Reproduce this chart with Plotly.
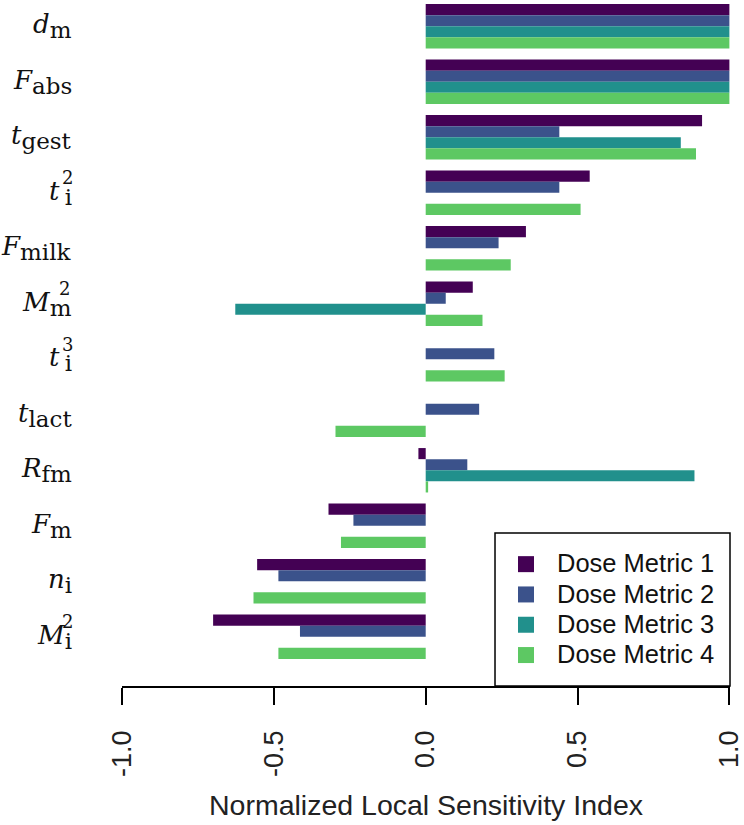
import plotly.graph_objects as go

# parameters, top to bottom: symbol, subscript, superscript
param_main = ["d", "F", "t", "t", "F", "M", "t", "t", "R", "F", "n", "M"]
param_sub = ["m", "abs", "gest", "i", "milk", "m", "i", "lact", "fm", "m", "i", "i"]
param_sup = ["", "", "", "2", "", "2", "3", "", "", "", "", "2"]
params = [m + "_" + s + ("^" + p if p else "") for m, s, p in zip(param_main, param_sub, param_sup)]

metric_names = ["Dose Metric 1", "Dose Metric 2", "Dose Metric 3", "Dose Metric 4"]
metric_colors = ["#440154", "#3B528B", "#21908C", "#5DC863"]

dm1 = [1.0, 1.0, 0.91, 0.54, 0.33, 0.155, 0.0, 0.0, -0.024, -0.32, -0.555, -0.70]
dm2 = [1.0, 1.0, 0.44, 0.44, 0.24, 0.066, 0.226, 0.176, 0.137, -0.238, -0.485, -0.414]
dm3 = [1.0, 1.0, 0.84, 0.0, 0.0, -0.627, 0.0, 0.0, 0.885, 0.0, 0.0, 0.0]
dm4 = [1.0, 1.0, 0.89, 0.51, 0.28, 0.187, 0.26, -0.297, 0.008, -0.279, -0.567, -0.485]
metric_values = [dm1, dm2, dm3, dm4]

x_ticks = [-1.0, -0.5, 0.0, 0.5, 1.0]

fig = go.Figure()
for name, color, vals in zip(metric_names, metric_colors, metric_values):
    fig.add_trace(go.Bar(
        x=vals, y=params, orientation="h", name=name,
        marker=dict(color=color, line=dict(width=0)),
        showlegend=False,
    ))
    # legend entry with a bigger square swatch
    fig.add_trace(go.Scatter(
        x=[None], y=[None], mode="markers",
        name=f"<span style='font-size:25.5px'>{name}</span>",
        marker=dict(symbol="square", size=19, color=color),
    ))

# y labels as math-style text (sub/superscripts stacked)
annotations = []
for p, m, s, sp in zip(params, param_main, param_sub, param_sup):
    gap = "&#8201;" if (sp and m == "t") else ""
    annotations.append(dict(
        x=0, xref="paper", y=p, yref="y", xanchor="right", yanchor="middle",
        xshift=-48, showarrow=False,
        text=f"<i>{m}</i>{gap}<sub><span style='font-size:23px'>{s}</span></sub>",
        font=dict(family="DejaVu Serif", size=26, color="#111"),
    ))
    if sp:
        annotations.append(dict(
            x=0, xref="paper", y=p, yref="y", xanchor="right", yanchor="middle",
            xshift=-47 if s == "i" else -50, yshift=15, showarrow=False,
            text=sp, font=dict(family="DejaVu Serif", size=18, color="#111"),
        ))

fig.update_layout(
    width=744, height=825,
    margin=dict(l=122, r=14, t=0, b=139),
    paper_bgcolor="white", plot_bgcolor="white",
    barmode="group", bargap=0.2, bargroupgap=0,
    annotations=annotations,
    font=dict(family="Liberation Sans, Arial", color="#222"),
    legend=dict(
        x=0.6135, xanchor="left", y=0.207, yanchor="top",
        borderwidth=0, bgcolor="rgba(0,0,0,0)",
        font=dict(size=21, color="#111"), itemwidth=52,
        tracegroupgap=0,
    ),
    shapes=[dict(
        type="rect", xref="paper", yref="paper",
        x0=0.6135, x1=1.0, y0=0, y1=0.223,
        line=dict(color="black", width=1.5),
    )],
    xaxis=dict(
        range=[-1.0, 1.002], tickvals=x_ticks, ticktext=[f"{v:.1f}" for v in x_ticks],
        tickangle=-90, ticks="outside", ticklen=17, tickwidth=1.5, tickcolor="black",
        showline=True, linecolor="black", linewidth=1.5,
        showgrid=False, zeroline=False, ticklabeloverflow="allow",
        tickfont=dict(size=27, color="#222"), ticklabelstandoff=15,
        title=dict(text="Normalized Local Sensitivity Index",
                   font=dict(size=28.5, color="#222"), standoff=19),
    ),
    yaxis=dict(
        categoryorder="array", categoryarray=params,
        range=[11.887, -0.473], showticklabels=False,
        showgrid=False, zeroline=False, showline=False, ticks="",
    ),
)

fig.write_html("out.html", config={"displayModeBar": False},
               post_script="document.body.style.margin='0px';")
